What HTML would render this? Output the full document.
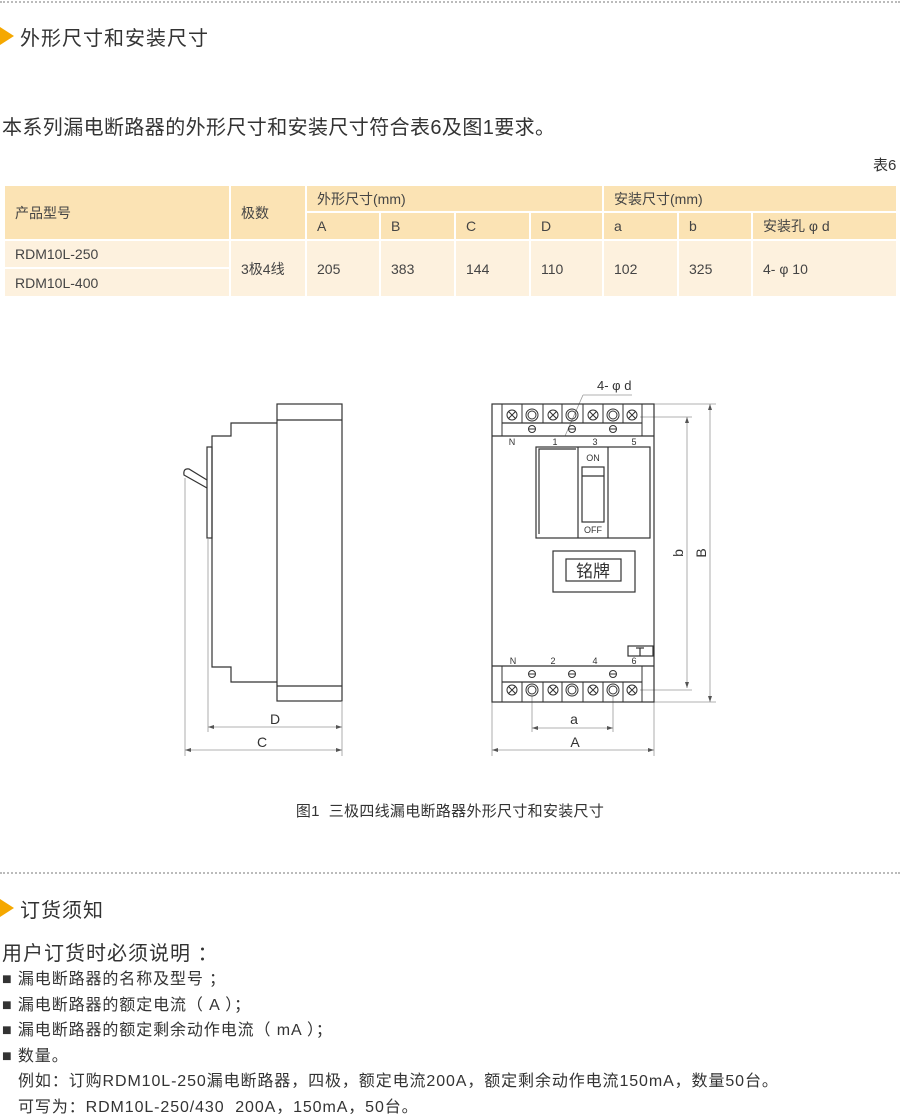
<!DOCTYPE html>
<html><head><meta charset="utf-8">
<style>
body{margin:0;width:900px;height:1112px;position:relative;background:#fff;font-family:"Liberation Sans","Noto Sans CJK SC",sans-serif;color:#333;overflow:hidden}
.t{position:absolute;white-space:nowrap}
.dot{position:absolute;left:0;width:900px;border-top:2px dotted #bbb}
.arr{position:absolute;width:0;height:0;border-left:14px solid #f5a800;border-top:9px solid transparent;border-bottom:9px solid transparent}
table{position:absolute;left:3px;top:184px;width:895px;border-collapse:collapse;font-size:14px;color:#444}
td{border:2px solid #fff;padding:0 0 0 10px;height:24px}
.h td{background:#fbe3b4}
.d td{background:#fdf1de}
</style></head><body>
<div class="dot" style="top:1px"></div>
<div class="arr" style="left:0;top:27px"></div>
<div class="t" style="left:20px;top:22px;font-size:20px;letter-spacing:1px">外形尺寸和安装尺寸</div>
<div class="t" style="left:2px;top:111px;font-size:20px;color:#333;letter-spacing:0.4px">本系列漏电断路器的外形尺寸和安装尺寸符合表6及图1要求。</div>
<div class="t" style="left:873px;top:154px;font-size:15px">表6</div>
<table>
<tr class="h" style="height:27px"><td rowspan="2" style="width:214px">产品型号</td><td rowspan="2" style="width:64px">极数</td><td colspan="4">外形尺寸(mm)</td><td colspan="3">安装尺寸(mm)</td></tr>
<tr class="h" style="height:28px"><td style="width:62px">A</td><td style="width:63px">B</td><td style="width:63px">C</td><td style="width:61px">D</td><td style="width:63px">a</td><td style="width:62px">b</td><td>安装孔 φ d</td></tr>
<tr class="d" style="height:28px"><td>RDM10L-250</td><td rowspan="2">3极4线</td><td rowspan="2">205</td><td rowspan="2">383</td><td rowspan="2">144</td><td rowspan="2">110</td><td rowspan="2">102</td><td rowspan="2">325</td><td rowspan="2">4- φ 10</td></tr>
<tr class="d" style="height:29px"><td>RDM10L-400</td></tr>
</table>

<svg style="position:absolute;left:0;top:0" width="900" height="1112" fill="none" stroke="#333" stroke-width="1.2">
<rect x="277" y="404" width="65" height="297"/>
<line x1="277" y1="420" x2="342" y2="420"/><line x1="277" y1="686" x2="342" y2="686"/>
<polyline points="277,423 231,423 231,436 212,436 212,667 231,667 231,682 277,682"/>
<rect x="207" y="447" width="5" height="91"/>
<path d="M207,480 L189,469 Q183,468 184,475 L207,488" stroke-width="1.2"/>
<g stroke="#999" stroke-width="0.8">
<line x1="185" y1="478" x2="185" y2="756"/><line x1="208" y1="538" x2="208" y2="732"/><line x1="342" y1="701" x2="342" y2="756"/>
<line x1="208" y1="727" x2="342" y2="727"/><line x1="185" y1="750" x2="342" y2="750"/>
<line x1="492" y1="702" x2="492" y2="756"/><line x1="654" y1="702" x2="654" y2="756"/>
<line x1="532" y1="696" x2="532" y2="732"/><line x1="613" y1="696" x2="613" y2="732"/>
<line x1="492" y1="750" x2="654" y2="750"/><line x1="532" y1="728" x2="613" y2="728"/>
<line x1="654" y1="404" x2="716" y2="404"/><line x1="654" y1="702" x2="716" y2="702"/>
<line x1="640" y1="417" x2="692" y2="417"/><line x1="640" y1="690" x2="692" y2="690"/>
<line x1="687" y1="417" x2="687" y2="688"/><line x1="710" y1="404" x2="710" y2="702"/>
<line x1="583" y1="395" x2="565" y2="436"/><line x1="583" y1="395" x2="632" y2="395"/>
</g>
<g fill="#555" stroke="none">
<path d="M208,727 l6,-2 v4z M342,727 l-6,-2 v4z M185,750 l6,-2 v4z M342,750 l-6,-2 v4z"/>
<path d="M492,750 l6,-2 v4z M654,750 l-6,-2 v4z M532,728 l6,-2 v4z M613,728 l-6,-2 v4z"/>
<path d="M687,417 l-2,6 h4z M687,688 l-2,-6 h4z M710,404 l-2,6 h4z M710,702 l-2,-6 h4z"/>
</g>
<rect x="492" y="404" width="162" height="298"/>
<line x1="492" y1="436" x2="654" y2="436"/><line x1="492" y1="666" x2="654" y2="666"/>
<line x1="502" y1="423" x2="642" y2="423"/><line x1="502" y1="682" x2="642" y2="682"/>
<g stroke-width="1">
<line x1="502" y1="404" x2="502" y2="436"/><line x1="642" y1="404" x2="642" y2="436"/>
<line x1="522" y1="404" x2="522" y2="423"/><line x1="543" y1="404" x2="543" y2="423"/><line x1="562" y1="404" x2="562" y2="423"/><line x1="583" y1="404" x2="583" y2="423"/><line x1="603" y1="404" x2="603" y2="423"/><line x1="623" y1="404" x2="623" y2="423"/>
<line x1="502" y1="666" x2="502" y2="702"/><line x1="642" y1="666" x2="642" y2="702"/>
<line x1="522" y1="682" x2="522" y2="702"/><line x1="543" y1="682" x2="543" y2="702"/><line x1="562" y1="682" x2="562" y2="702"/><line x1="583" y1="682" x2="583" y2="702"/><line x1="603" y1="682" x2="603" y2="702"/><line x1="623" y1="682" x2="623" y2="702"/>
</g>
<g stroke-width="1">
<circle cx="512" cy="415" r="5"/><path d="M508.5,411.5l7,7M515.5,411.5l-7,7"/>
<circle cx="553" cy="415" r="5"/><path d="M549.5,411.5l7,7M556.5,411.5l-7,7"/>
<circle cx="593" cy="415" r="5"/><path d="M589.5,411.5l7,7M596.5,411.5l-7,7"/>
<circle cx="632" cy="415" r="5"/><path d="M628.5,411.5l7,7M635.5,411.5l-7,7"/>
<circle cx="532" cy="415" r="6"/><circle cx="532" cy="415" r="4"/>
<circle cx="572" cy="415" r="6"/><circle cx="572" cy="415" r="4"/>
<circle cx="613" cy="415" r="6"/><circle cx="613" cy="415" r="4"/>
<circle cx="532" cy="429" r="3.5"/><line x1="528.5" y1="429" x2="535.5" y2="429"/>
<circle cx="572" cy="429" r="3.5"/><line x1="568.5" y1="429" x2="575.5" y2="429"/>
<circle cx="613" cy="429" r="3.5"/><line x1="609.5" y1="429" x2="616.5" y2="429"/>
<circle cx="512" cy="690" r="5"/><path d="M508.5,686.5l7,7M515.5,686.5l-7,7"/>
<circle cx="553" cy="690" r="5"/><path d="M549.5,686.5l7,7M556.5,686.5l-7,7"/>
<circle cx="593" cy="690" r="5"/><path d="M589.5,686.5l7,7M596.5,686.5l-7,7"/>
<circle cx="632" cy="690" r="5"/><path d="M628.5,686.5l7,7M635.5,686.5l-7,7"/>
<circle cx="532" cy="690" r="6"/><circle cx="532" cy="690" r="4"/>
<circle cx="572" cy="690" r="6"/><circle cx="572" cy="690" r="4"/>
<circle cx="613" cy="690" r="6"/><circle cx="613" cy="690" r="4"/>
<circle cx="532" cy="674" r="3.5"/><line x1="528.5" y1="674" x2="535.5" y2="674"/>
<circle cx="572" cy="674" r="3.5"/><line x1="568.5" y1="674" x2="575.5" y2="674"/>
<circle cx="613" cy="674" r="3.5"/><line x1="609.5" y1="674" x2="616.5" y2="674"/>
</g>
<rect x="536" y="447" width="114" height="91"/>
<line x1="578" y1="447" x2="578" y2="538"/><line x1="608" y1="447" x2="608" y2="538"/>
<polyline points="576,449 539,449 539,534" />
<rect x="582" y="467" width="22" height="55"/><line x1="582" y1="476" x2="604" y2="476"/>
<rect x="553" y="551" width="82" height="41"/><rect x="566" y="559" width="55" height="22"/>
<rect x="628" y="646" width="25" height="10"/><line x1="640" y1="648" x2="640" y2="656"/><line x1="636" y1="648" x2="644" y2="648"/>
<g fill="#333" stroke="none" font-family="Liberation Sans, sans-serif">
<text x="512" y="445" font-size="9" text-anchor="middle">N</text>
<text x="555" y="445" font-size="9" text-anchor="middle">1</text>
<text x="595" y="445" font-size="9" text-anchor="middle">3</text>
<text x="634" y="445" font-size="9" text-anchor="middle">5</text>
<text x="513" y="664" font-size="9" text-anchor="middle">N</text>
<text x="553" y="664" font-size="9" text-anchor="middle">2</text>
<text x="595" y="664" font-size="9" text-anchor="middle">4</text>
<text x="634" y="664" font-size="9" text-anchor="middle">6</text>
<text x="593" y="461" font-size="9" text-anchor="middle">ON</text>
<text x="593" y="533" font-size="9" text-anchor="middle">OFF</text>
<text x="593" y="577" font-size="17" text-anchor="middle" font-family="Noto Sans CJK SC, sans-serif">铭牌</text>
<text x="597" y="390" font-size="13">4- φ d</text>
<text x="275" y="724" font-size="14" text-anchor="middle">D</text>
<text x="262" y="747" font-size="14" text-anchor="middle">C</text>
<text x="574" y="724" font-size="14" text-anchor="middle">a</text>
<text x="575" y="747" font-size="14" text-anchor="middle">A</text>
<text transform="translate(683,553) rotate(-90)" font-size="14" text-anchor="middle">b</text>
<text transform="translate(706,553) rotate(-90)" font-size="14" text-anchor="middle">B</text>
</g>
</svg>
<div class="t" style="left:0;width:900px;text-align:center;top:800px;font-size:15px;letter-spacing:0.3px">图1&nbsp; 三极四线漏电断路器外形尺寸和安装尺寸</div>

<div class="dot" style="top:872px"></div>
<div class="arr" style="left:0;top:899px"></div>
<div class="t" style="left:20px;top:894px;font-size:20px;letter-spacing:1px">订货须知</div>
<div class="t" style="left:2px;top:937px;font-size:20px;letter-spacing:1px">用户订货时必须说明 ：</div>
<div class="t" style="left:2px;top:967px;font-size:16px;line-height:25.5px;letter-spacing:0.9px">■ 漏电断路器的名称及型号 ；<br>■ 漏电断路器的额定电流（ A ）；<br>■ 漏电断路器的额定剩余动作电流（ mA ）；<br>■ 数量。<br>&nbsp;&nbsp;&nbsp;例如：订购RDM10L-250漏电断路器，四极，额定电流200A，额定剩余动作电流150mA，数量50台。<br>&nbsp;&nbsp;&nbsp;可写为：RDM10L-250/430&nbsp; 200A，150mA，50台。</div>
</body></html>
